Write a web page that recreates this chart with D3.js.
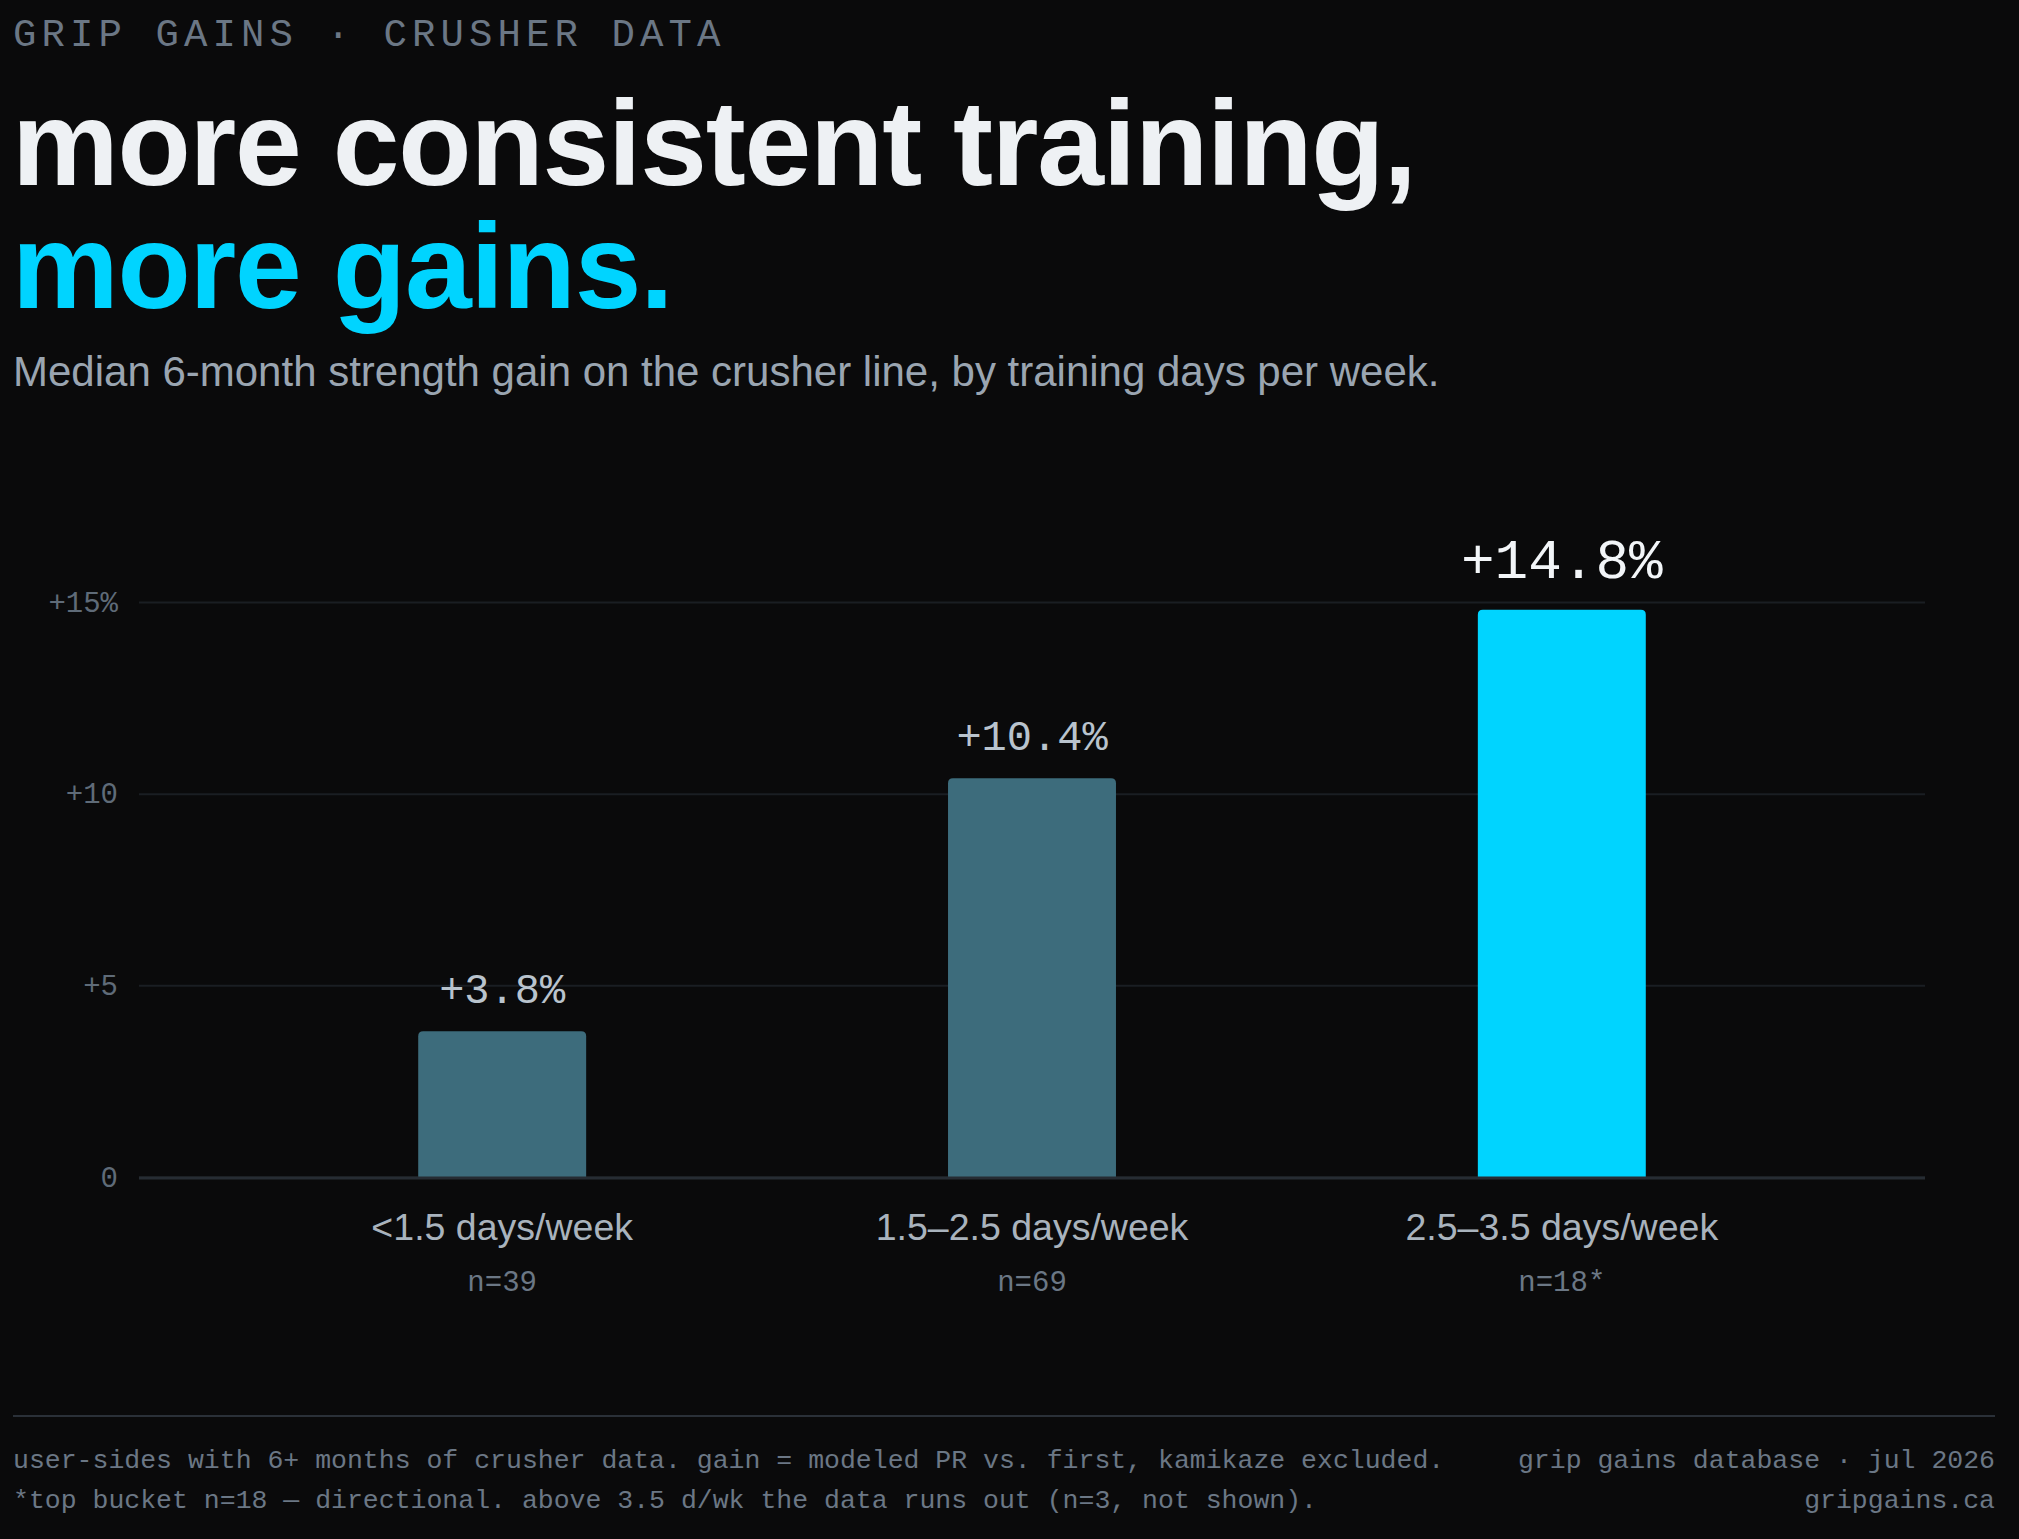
<!DOCTYPE html>
<html lang="en">
<head>
    <meta charset="UTF-8">
    <title>more consistent training, more gains.</title>
    <script src="https://d3js.org/d3.v7.min.js"></script>
    <style>
        html, body {
            margin: 0;
            padding: 0;
            background: #0a0a0b;
        }
        svg { display: block; }
        .mono { font-family: "Liberation Mono", "DejaVu Sans Mono", monospace; }
        .sans { font-family: "Liberation Sans", Arial, sans-serif; }
        .y-axis .domain, .x-axis .domain { display: none; }
        .y-axis line { stroke: #1a1e23; stroke-width: 2; }
        .y-axis text { fill: #5f6b78; font-size: 29px; font-family: "Liberation Mono", monospace; }
        .x-axis line { display: none; }
        .x-axis text { fill: #a9b3bd; font-size: 37.5px; font-family: "Liberation Sans", Arial, sans-serif; }
    </style>
</head>
<body>
<svg id="chart"></svg>
<script>
    // chart data
    const categories = ["<1.5 days/week", "1.5\u20132.5 days/week", "2.5\u20133.5 days/week"];
    const gains = [3.8, 10.4, 14.8];
    const sampleSizes = ["n=39", "n=69", "n=18*"];
    const yTickValues = [0, 5, 10, 15];
    const yTickLabels = ["0", "+5", "+10", "+15%"];

    const W = 2019, H = 1539;
    const svg = d3.select("#chart").attr("width", W).attr("height", H);

    svg.append("rect").attr("width", W).attr("height", H).attr("fill", "#0a0a0b");

    // header text
    svg.append("text")
        .attr("class", "mono")
        .attr("x", 13).attr("y", 46)
        .attr("fill", "#6b7785")
        .style("font-size", "39px")
        .style("letter-spacing", "5.1px")
        .text("GRIP GAINS \u00b7 CRUSHER DATA");

    svg.append("text")
        .attr("class", "sans")
        .attr("x", 12).attr("y", 185)
        .attr("fill", "#eef1f4")
        .style("font-size", "120px").style("font-weight", "bold")
        .style("letter-spacing", "-1.2px")
        .text("more consistent training,");

    svg.append("text")
        .attr("class", "sans")
        .attr("x", 12).attr("y", 308)
        .attr("fill", "#00d4ff")
        .style("font-size", "120px").style("font-weight", "bold")
        .style("letter-spacing", "-1.2px")
        .text("more gains.");

    svg.append("text")
        .attr("class", "sans")
        .attr("x", 13).attr("y", 386)
        .attr("fill", "#9aa5b1")
        .style("font-size", "42px")
        .text("Median 6-month strength gain on the crusher line, by training days per week.");

    // plot area
    const left = 139, right = 1925, bottom = 1177;

    const x = d3.scaleBand()
        .domain(categories)
        .range([left, right])
        .paddingInner(0.683)
        .paddingOuter(0.527);

    const y = d3.scaleLinear()
        .domain([0, 15])
        .range([bottom, 602]);

    // gridlines + tick labels
    svg.append("g")
        .attr("class", "y-axis")
        .attr("transform", `translate(${left},0)`)
        .call(d3.axisLeft(y)
            .tickValues(yTickValues)
            .tickSize(-(right - left))
            .tickPadding(21)
            .tickFormat((d, i) => yTickLabels[i]));

    // bars, rounded top corners only
    const r = 5;
    svg.selectAll(".bar")
        .data(gains)
        .enter()
        .append("path")
        .attr("class", "bar")
        .attr("fill", (d, i) => i === gains.length - 1 ? "#00d4ff" : "#3d6c7c")
        .attr("d", (d, i) => {
            const x0 = x(categories[i]), x1 = x0 + x.bandwidth();
            const yt = y(d), yb = y(0);
            return `M${x0},${yb}V${yt + r}Q${x0},${yt} ${x0 + r},${yt}H${x1 - r}Q${x1},${yt} ${x1},${yt + r}V${yb}Z`;
        });

    // zero baseline
    svg.append("line")
        .attr("x1", left).attr("x2", right)
        .attr("y1", y(0) + 1).attr("y2", y(0) + 1)
        .attr("stroke", "#262c33").attr("stroke-width", 3);

    // value labels
    svg.selectAll(".value")
        .data(gains)
        .enter()
        .append("text")
        .attr("class", "value mono")
        .attr("text-anchor", "middle")
        .attr("x", (d, i) => x(categories[i]) + x.bandwidth() / 2)
        .attr("y", (d, i) => y(d) - (i === gains.length - 1 ? 32 : 28))
        .attr("fill", (d, i) => i === gains.length - 1 ? "#f2f5f8" : "#b9c3cd")
        .style("font-size", (d, i) => i === gains.length - 1 ? "56px" : "42px")
        .text(d => "+" + d.toFixed(1) + "%");

    // category labels
    svg.append("g")
        .attr("class", "x-axis")
        .attr("transform", `translate(0,${bottom})`)
        .call(d3.axisBottom(x).tickSize(0).tickPadding(0))
        .selectAll("text")
        .attr("dy", null)
        .attr("y", 63);

    // sample sizes
    svg.selectAll(".nlabel")
        .data(sampleSizes)
        .enter()
        .append("text")
        .attr("class", "nlabel mono")
        .attr("text-anchor", "middle")
        .attr("x", (d, i) => x(categories[i]) + x.bandwidth() / 2)
        .attr("y", 1291)
        .attr("fill", "#6b7785")
        .style("font-size", "29px")
        .text(d => d);

    // footer
    svg.append("line")
        .attr("x1", 13).attr("x2", 1995)
        .attr("y1", 1416).attr("y2", 1416)
        .attr("stroke", "#2a3038").attr("stroke-width", 2);

    const footLeft = [
        "user-sides with 6+ months of crusher data. gain = modeled PR vs. first, kamikaze excluded.",
        "*top bucket n=18 \u2014 directional. above 3.5 d/wk the data runs out (n=3, not shown)."
    ];
    const footRight = ["grip gains database \u00b7 jul 2026", "gripgains.ca"];

    footLeft.forEach((t, i) => {
        svg.append("text").attr("class", "mono")
            .attr("x", 13).attr("y", 1468 + i * 40)
            .attr("fill", "#6b7785").style("font-size", "26.5px")
            .text(t);
    });
    footRight.forEach((t, i) => {
        svg.append("text").attr("class", "mono")
            .attr("x", 1995).attr("y", 1468 + i * 40)
            .attr("text-anchor", "end")
            .attr("fill", "#6b7785").style("font-size", "26.5px")
            .text(t);
    });
</script>
</body>
</html>
